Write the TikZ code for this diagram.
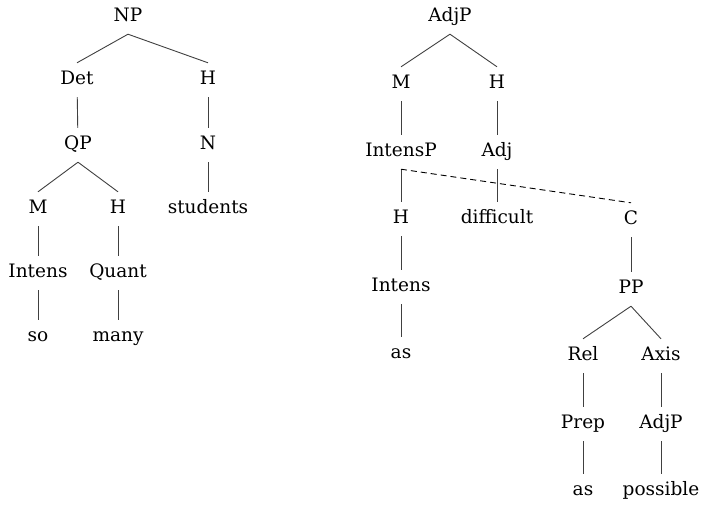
\documentclass[tikz,border=0pt]{standalone}
\usepackage{fontspec}
\setmainfont{DejaVu Serif}
\begin{document}
\begin{tikzpicture}[
x=1pt,y=-1pt,
font=\fontsize{18.5}{21}\selectfont,
cat/.style={inner sep=0pt,minimum height=34pt,text height=2.1ex,text depth=.25ex},
branch/.style={draw=black!75,line width=0.9pt},
link/.style={draw=black,line width=0.9pt,dash pattern=on 6pt off 4pt},
]
\useasboundingbox (0,0) rectangle (705,506);

% NP tree
\node[cat] (np) at (128,17) {NP};
\node[cat] (det) at (77,80) {Det};
\node[cat] (hn) at (208,80) {H};
\node[cat] (qp) at (78,145) {QP};
\node[cat] (n) at (208,145) {N};
\node[cat] (mq) at (38,209) {M};
\node[cat] (hq) at (118,209) {H};
\node[cat] (students) at (208,209) {students};
\node[cat] (intensl) at (38,273) {Intens};
\node[cat] (quant) at (118,273) {Quant};
\node[cat] (so) at (38,337) {so};
\node[cat] (many) at (118,337) {many};

\draw[branch] (np.south) -- (det.north);
\draw[branch] (np.south) -- (hn.north);
\draw[branch] (det) -- (qp);
\draw[branch] (hn) -- (n);
\draw[branch] (n) -- (students);
\draw[branch] (qp.south) -- (mq.north);
\draw[branch] (qp.south) -- (hq.north);
\draw[branch] (mq) -- (intensl);
\draw[branch] (hq) -- (quant);
\draw[branch] (intensl) -- (so);
\draw[branch] (quant) -- (many);

% AdjP tree
\node[cat] (adjp) at (450,17) {AdjP};
\node[cat] (ma) at (401,84) {M};
\node[cat] (ha) at (497,84) {H};
\node[cat] (intensp) at (401,152) {IntensP};
\node[cat] (adj) at (497,152) {Adj};
\node[cat] (hi) at (401,219) {H};
\node[cat] (difficult) at (497,219) {difficult};
\node[cat] (c) at (631,220) {C};
\node[cat] (intensr) at (401,287) {Intens};
\node[cat] (pp) at (631,289) {PP};
\node[cat] (as1) at (401,354) {as};
\node[cat] (rel) at (583,356) {Rel};
\node[cat] (axis) at (661,356) {Axis};
\node[cat] (prep) at (583,424) {Prep};
\node[cat] (adjp2) at (661,424) {AdjP};
\node[cat] (as2) at (583,491) {as};
\node[cat] (possible) at (661,491) {possible};

\draw[branch] (adjp.south) -- (ma.north);
\draw[branch] (adjp.south) -- (ha.north);
\draw[branch] (ma) -- (intensp);
\draw[branch] (ha) -- (adj);
\draw[branch] (intensp) -- (hi);
\draw[branch] (adj) -- (difficult);
\draw[branch] (hi) -- (intensr);
\draw[branch] (intensr) -- (as1);
\draw[link] (intensp.south) -- (c.north);
\draw[branch] (c) -- (pp);
\draw[branch] (pp.south) -- (rel.north);
\draw[branch] (pp.south) -- (axis.north);
\draw[branch] (rel) -- (prep);
\draw[branch] (axis) -- (adjp2);
\draw[branch] (prep) -- (as2);
\draw[branch] (adjp2) -- (possible);
\end{tikzpicture}
\end{document}
